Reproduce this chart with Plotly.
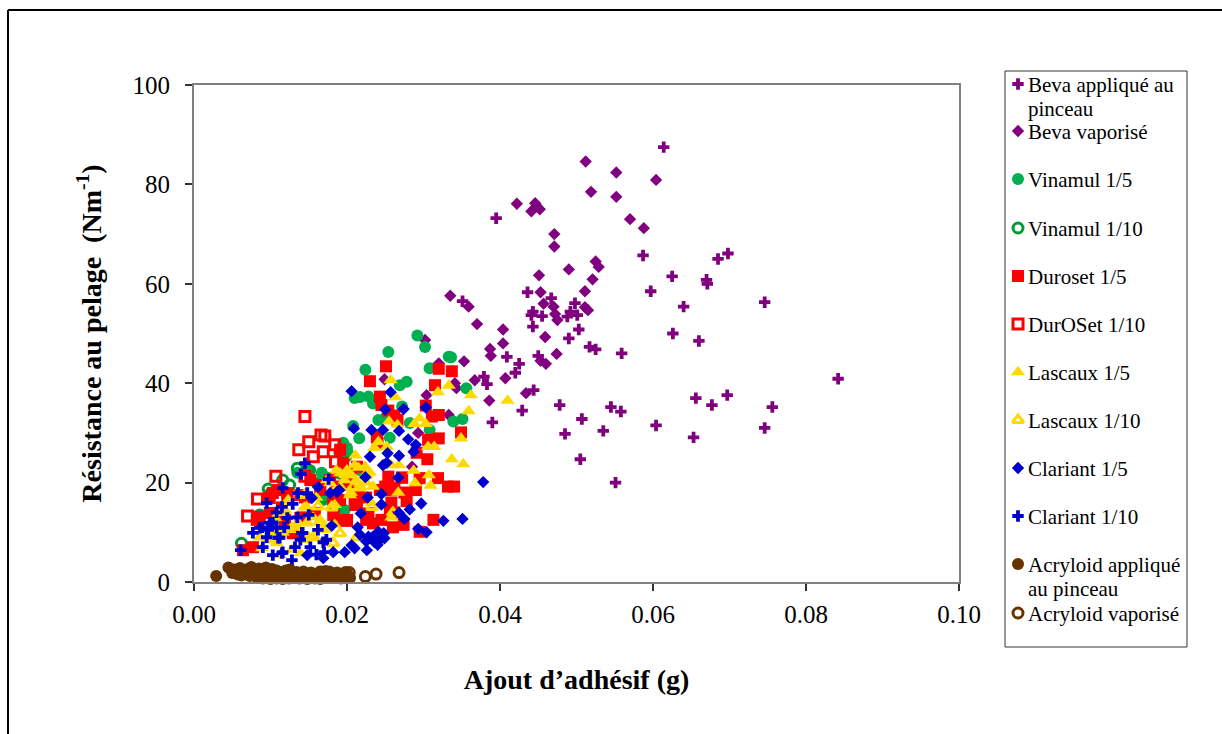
import plotly.graph_objects as go

SERIF = "Liberation Serif, Times New Roman, serif"

beva_pinceau_x = [.0614,.0395,.0587,.0698,.0685,.0625,.0670,.0671,.0597,.0436,.0746,.0640,.0467,.0351,.0498,.0492,.0443,.0441,.0455,.0488,.0501,.0443,.0503,.0490,.0626,.0660,.0517,.0525,.0559,.0409,.0450,.0425,.0420,.0379,.0383,.0842,.0444,.0656,.0697,.0677,.0478,.0545,.0558,.0756,.0429,.0390,.0507,.0535,.0485,.0604,.0653,.0746,.0505,.0551]
beva_pinceau_y = [87.5,73.2,65.7,66.1,65.0,61.5,60.8,60.0,58.5,58.3,56.3,55.4,57.1,56.5,56.1,54.4,54.4,53.7,53.5,53.4,53.7,51.4,50.8,49.0,50.0,48.5,47.3,46.8,46.0,45.3,45.5,43.9,42.1,41.3,39.8,40.9,38.6,37.0,37.6,35.6,35.6,35.2,34.3,35.2,34.5,32.1,32.8,30.4,29.8,31.5,29.1,31.0,24.7,20.0]

beva_vap_x = [.0512,.0552,.0604,.0519,.0552,.0422,.0446,.0441,.0452,.0448,.0570,.0588,.0471,.0471,.0490,.0451,.0525,.0529,.0521,.0511,.0453,.0457,.0470,.0472,.0475,.0511,.0515,.0459,.0474,.0453,.0460,.0434,.0404,.0404,.0387,.0388,.0353,.0335,.0359,.0370,.0367,.0407,.0386,.0249,.0302,.0320,.0341,.0343,.0304,.0333,.0293,.0285]
beva_vap_y = [84.6,82.4,80.9,78.5,77.5,76.1,76.2,74.6,75.0,75.6,73.0,71.2,70.0,67.5,62.9,61.7,64.5,63.4,60.9,58.5,58.3,56.0,55.4,53.9,52.7,55.3,54.7,49.3,45.9,44.5,43.9,38.0,50.8,48.0,46.9,45.5,44.4,57.6,55.4,51.9,40.6,41.0,36.5,40.8,48.7,44.0,40.0,39.0,37.6,33.6,30.0,23.2]

vin5_x = [.0292,.0302,.0254,.0224,.0333,.0336,.0308,.0278,.0269,.0356,.0210,.0217,.0228,.0234,.0272,.0241,.0250,.0282,.0339,.0351,.0208,.0216,.0308,.0256,.0200,.0201,.0199,.0217,.0195,.0197,.0152,.0167,.0135,.0169,.0195,.0190,.0160,.0175]
vin5_y = [49.6,47.3,46.3,42.7,45.3,45.2,43.0,40.3,39.6,39.0,37.0,37.2,37.3,35.9,35.3,32.6,33.0,32.0,32.3,32.8,31.4,28.9,30.6,29.0,27.0,26.0,25.2,22.5,13.9,14.5,22.5,22.0,22.0,16.5,28.0,26.0,20.0,21.0]

vin10_x = [.0062,.0086,.0097,.0116,.0135,.0150,.0191,.0184,.0100,.0125,.0170]
vin10_y = [7.8,13.5,18.7,20.5,22.9,22.5,21.9,14.5,17.8,19.5,17.0]

dur5_x = [.0251,.0230,.0320,.0337,.0315,.0243,.0245,.0254,.0303,.0320,.0311,.0349,.0320,.0306,.0305,.0266,.0239,.0291,.0295,.0319,.0332,.0340,.0313,.0295,.0274,.0278,.0234,.0200,.0211,.0254,.0250,.0258,.0256,.0228,.0213,.0191,.0272,.0064,.0077,.0103,.0122,.0142,.0195,.0182,.0099,.0082,.0129,.0187,.0213,.0200,.0165,.0145,.0115,.0110,.0139,.0086,.0122,.0165,.0182,.0191,.0178,.0204,.0152,.0099,.0139,.0158,.0119,.0195,.0205,.0240,.0262,.0243,.0262,.0275,.0272,.0258,.0262,.0245,.0225,.0260,.0215,.0200,.0225,.0210,.0290]
dur5_y = [43.4,40.4,42.9,42.4,39.6,37.3,35.6,34.5,35.5,33.6,33.3,30.1,28.9,28.6,24.7,32.6,29.2,26.0,20.9,20.9,19.2,19.2,12.5,10.1,11.5,16.3,11.8,12.3,15.5,21.2,19.2,18.5,14.5,13.8,23.2,26.6,21.0,6.4,7.0,17.9,17.9,13.0,12.4,16.5,13.9,12.5,9.8,19.2,15.9,12.5,19.5,17.0,15.0,18.5,12.9,13.1,17.1,18.5,13.5,16.5,20.5,20.5,20.5,16.9,17.5,13.9,12.5,24.0,22.0,28.0,33.5,18.5,19.0,18.0,21.0,16.0,14.0,12.5,12.5,11.0,18.0,19.5,17.0,16.5,18.5]

dur10_x = [.0145,.0137,.0150,.0166,.0171,.0184,.0169,.0156,.0185,.0107,.0083,.0070,.0145]
dur10_y = [33.3,26.6,28.2,29.6,29.4,27.6,26.2,25.2,24.2,21.3,16.7,13.3,21.3]

las5_x = [.0410,.0362,.0359,.0349,.0352,.0337,.0257,.0263,.0319,.0333,.0295,.0288,.0303,.0255,.0266,.0241,.0236,.0252,.0306,.0314,.0211,.0258,.0268,.0287,.0307,.0289,.0309,.0267,.0191,.0198,.0206,.0217,.0234,.0230,.0224,.0232,.0258,.0186,.0197,.0178,.0147,.0165,.0147,.0099,.0112,.0125,.0135,.0139,.0122,.0112,.0086,.0108,.0205,.0150,.0128,.0170,.0097,.0103,.0116,.0128,.0136,.0148,.0156,.0158,.0123,.0119,.0106,.0144,.0160,.0174,.0171,.0184,.0145,.0112,.0089,.0210,.0184,.0204,.0184,.0200,.0212,.0225,.0192,.0215]
las5_y = [36.5,37.6,34.4,28.9,23.7,24.7,40.6,37.2,38.2,39.5,32.9,31.8,31.8,32.3,31.6,28.2,27.0,27.2,27.2,27.2,25.5,23.5,23.5,22.4,21.5,19.9,19.4,18.0,21.9,21.5,21.5,19.2,19.2,22.0,23.2,15.9,13.0,22.5,20.5,19.9,15.1,12.5,11.8,8.4,9.8,10.5,11.0,5.8,15.9,13.9,9.0,7.8,18.0,9.0,6.5,11.0,8.5,9.5,10.0,11.0,11.9,12.0,13.0,9.0,16.5,14.5,12.9,15.0,17.0,20.5,10.5,11.5,8.5,5.4,6.8,23.5,18.5,17.5,15.5,22.5,20.5,20.0,19.0,23.0]

las10_x = [.0162,.0191,.0165,.0156,.0182,.0217,.0208,.0213,.0260,.0233,.0225,.0180,.0145]
las10_y = [15.2,9.8,12.0,9.0,7.8,19.0,19.1,9.0,13.9,15.1,21.5,15.0,17.5]

cla5_x = [.0206,.0257,.0250,.0274,.0303,.0209,.0232,.0247,.0268,.0280,.0290,.0287,.0253,.0268,.0230,.0247,.0378,.0267,.0224,.0245,.0227,.0245,.0297,.0282,.0268,.0275,.0218,.0326,.0351,.0293,.0304,.0214,.0241,.0233,.0243,.0228,.0217,.0206,.0182,.0197,.0210,.0226,.0169,.0148,.0162,.0187,.0178,.0154,.0180,.0190,.0240,.0248,.0236,.0225,.0249,.0252]
cla5_y = [38.4,38.2,34.7,34.8,35.1,30.9,30.6,30.6,30.4,28.7,27.6,26.2,25.9,25.4,25.2,23.5,20.1,21.0,21.1,17.7,17.0,15.6,15.8,14.6,13.9,12.7,13.8,12.3,12.7,10.7,10.0,11.0,10.1,9.0,8.5,9.1,9.5,7.4,6.0,6.0,6.8,6.4,4.8,5.4,19.1,18.1,17.9,16.9,11.3,18.5,7.5,9.8,8.0,8.2,8.8,24.0]

cla10_x = [.0145,.0140,.0176,.0116,.0095,.0115,.0129,.0136,.0148,.0150,.0122,.0110,.0141,.0173,.0090,.0061,.0152,.0089,.0077,.0103,.0097,.0132,.0116,.0103,.0128,.0135,.0160,.0170,.0095,.0108,.0118,.0086,.0099,.0108,.0115,.0139,.0142,.0169,.0112,.0162]
cla10_y = [23.9,21.7,20.7,18.9,15.9,15.1,15.7,17.9,17.9,13.5,12.9,8.9,9.9,8.5,7.0,6.4,7.0,11.0,9.9,12.0,10.5,7.0,6.0,5.4,4.4,13.0,5.5,6.0,9.0,14.0,11.0,10.9,11.9,10.9,5.8,8.5,9.9,8.0,8.9,10.5]

acr_pinceau_x = [.0029,.0045,.0050,.0053,.0057,.0060,.0062,.0066,.0068,.0070,.0073,.0075,.0078,.0080,.0082,.0085,.0087,.0090,.0092,.0094,.0096,.0098,.0100,.0102,.0104,.0106,.0108,.0110,.0112,.0115,.0118,.0120,.0122,.0125,.0127,.0130,.0132,.0134,.0136,.0140,.0145,.0150,.0155,.0160,.0163,.0167,.0170,.0172,.0175,.0178,.0182,.0185,.0190,.0195,.0200,.0090,.0100,.0108,.0116,.0124,.0138,.0143,.0148,.0153,.0158,.0165,.0177,.0187,.0192,.0198,.0204]
acr_pinceau_y = [1.2,2.9,1.8,2.5,1.5,2.8,1.3,2.2,1.6,2.6,1.2,3.0,1.9,2.4,1.0,2.7,1.6,2.2,0.8,2.9,1.4,2.0,1.0,2.6,0.8,1.7,2.3,1.2,0.9,2.0,1.5,0.8,1.7,2.5,1.0,1.4,0.9,2.0,1.2,1.5,0.9,1.3,1.0,1.4,0.8,1.7,1.1,2.2,0.9,1.6,1.2,0.8,1.5,1.1,1.7,0.7,0.6,0.7,0.6,0.7,0.7,2.1,0.6,1.9,0.7,0.6,2.1,1.9,0.7,2.0,0.8]

acr_vap_x = [.0268,.0224,.0238,.0203,.0185,.0165,.0145,.0120]
acr_vap_y = [1.9,1.1,1.6,1.9,1.5,2.0,1.7,2.2]

x_ticks = [0, 0.02, 0.04, 0.06, 0.08, 0.10]
x_labels = ["0.00", "0.02", "0.04", "0.06", "0.08", "0.10"]
y_ticks = [0, 20, 40, 60, 80, 100]

PURPLE, GRN, GRN2, RED, YEL, BLUE, BRN = "#800080", "#00B050", "#009933", "#FF0000", "#FFDA00", "#0000CC", "#663300"

# name, x, y, symbol, size, colour, open line width, legend key centre y (px), legend text lines
series = [
    ("Beva appliqué au pinceau", beva_pinceau_x, beva_pinceau_y, "cross", 9.5, PURPLE, 0, 84, ["Beva appliqué au", "pinceau"]),
    ("Beva vaporisé", beva_vap_x, beva_vap_y, "diamond", 9.5, PURPLE, 0, 131, ["Beva vaporisé"]),
    ("Vinamul 1/5", vin5_x, vin5_y, "circle", 12, GRN, 0, 179, ["Vinamul 1/5"]),
    ("Vinamul 1/10", vin10_x, vin10_y, "circle-open", 10, GRN2, 3, 228, ["Vinamul 1/10"]),
    ("Duroset 1/5", dur5_x, dur5_y, "square", 12, RED, 0, 276, ["Duroset 1/5"]),
    ("DurOSet 1/10", dur10_x, dur10_y, "square-open", 10, RED, 3, 324, ["DurOSet 1/10"]),
    ("Lascaux 1/5", las5_x, las5_y, "triangle-up", 12.5, YEL, 0, 372, ["Lascaux 1/5"]),
    ("Lascaux 1/10", las10_x, las10_y, "triangle-up-open", 10, YEL, 3, 420, ["Lascaux 1/10"]),
    ("Clariant 1/5", cla5_x, cla5_y, "diamond", 9.5, BLUE, 0, 468, ["Clariant 1/5"]),
    ("Clariant 1/10", cla10_x, cla10_y, "cross", 9.5, BLUE, 0, 516, ["Clariant 1/10"]),
    ("Acryloid appliqué au pinceau", acr_pinceau_x, acr_pinceau_y, "circle", 12, BRN, 0, 564, ["Acryloid appliqué", "au pinceau"]),
    ("Acryloid vaporisé", acr_vap_x, acr_vap_y, "circle-open", 10, BRN, 3, 613, ["Acryloid vaporisé"]),
]

W, H = 1222, 734
L, R, T, B = 194, 959, 85, 582
KEY_X, TEXT_X, LEGEND_FONT = 1018, 1026, 21

fig = go.Figure()
annotations = []
for name, xs, ys, symbol, size, colour, lw, key_y, lines in series:
    marker = dict(symbol=symbol, size=size, color=colour, line=dict(width=lw, color=colour))
    fig.add_trace(go.Scatter(x=xs, y=ys, mode="markers", name=name, marker=marker,
                             showlegend=False, cliponaxis=False))
    # legend key, drawn on the pixel overlay axes
    fig.add_trace(go.Scatter(x=[KEY_X], y=[key_y], mode="markers", name=name + " (key)", marker=marker,
                             xaxis="x2", yaxis="y2", showlegend=False, hoverinfo="skip"))
    for i, line in enumerate(lines):
        annotations.append(dict(text=line, xref="x2", yref="y2", x=TEXT_X, y=key_y + 1 + 24 * i,
                                xanchor="left", yanchor="middle", showarrow=False,
                                font=dict(family=SERIF, size=LEGEND_FONT, color="#000000")))

axis_line = dict(showline=True, linecolor="#808080", linewidth=2, mirror=True, showgrid=False, zeroline=False,
                 ticks="outside", ticklen=7, tickcolor="#333333", tickwidth=1.5, automargin=False,
                 tickfont=dict(family=SERIF, size=25, color="#000000"))

fig.update_layout(
    width=W, height=H, autosize=False,
    margin=dict(l=0, r=0, t=0, b=0, pad=0, autoexpand=False),
    paper_bgcolor="#FFFFFF", plot_bgcolor="rgba(0,0,0,0)",
    showlegend=False,
    xaxis=dict(domain=[L / W, R / W], range=[0, 0.1], tickvals=x_ticks, ticktext=x_labels, anchor="y",
               ticklabelstandoff=2,
               title=dict(text="\u00a0\u00a0<b>Ajout d’adhésif (g)</b>", standoff=42,
                          font=dict(family=SERIF, size=28, color="#000000")), **axis_line),
    yaxis=dict(domain=[1 - B / H, 1 - T / H], range=[0, 100], tickvals=y_ticks, anchor="x",
               ticklabelstandoff=10,
               title=dict(text="<b>Résistance au pelage  (Nm<sup>-1</sup>)</b>\u00a0\u00a0\u00a0\u00a0", standoff=23,
                          font=dict(family=SERIF, size=28, color="#000000")), **axis_line),
    xaxis2=dict(domain=[0, 1], range=[0, W], visible=False, anchor="y2"),
    yaxis2=dict(domain=[0, 1], range=[H, 0], visible=False, anchor="x2"),
    annotations=annotations,
    shapes=[
        dict(type="rect", xref="x2", yref="y2", x0=1005, x1=1187, y0=71, y1=647,
             line=dict(color="#333333", width=1), fillcolor="rgba(0,0,0,0)"),
        dict(type="line", xref="x2", yref="y2", x0=8, x1=W, y0=10, y1=10, line=dict(color="#000000", width=2)),
        dict(type="line", xref="x2", yref="y2", x0=8, x1=8, y0=10, y1=H, line=dict(color="#000000", width=2)),
    ],
)

fig.write_html("out.html", config=dict(displayModeBar=False),
               post_script="document.body.style.margin='0';document.body.style.overflow='hidden';")
